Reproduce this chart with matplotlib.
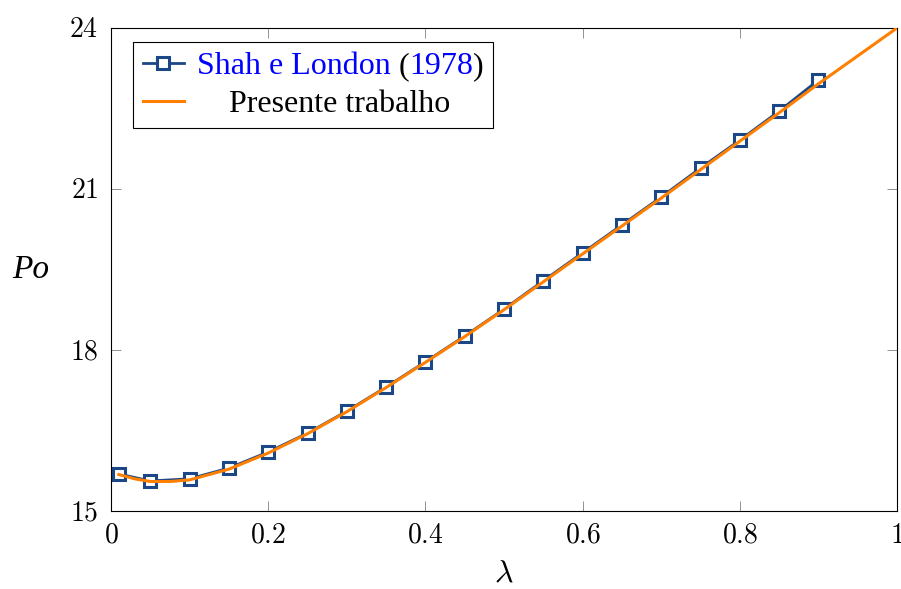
import numpy as np
import matplotlib
matplotlib.use('Agg')
import matplotlib.pyplot as plt
from matplotlib.ticker import FuncFormatter

plt.rcParams['font.family'] = 'Liberation Serif'
plt.rcParams['mathtext.fontset'] = 'cm'

# Shah e London (1978)
lam_ref = [0.01, 0.05, 0.10, 0.15, 0.20, 0.25, 0.30, 0.35, 0.40, 0.45,
           0.50, 0.55, 0.60, 0.65, 0.70, 0.75, 0.80, 0.85, 0.90]
po_ref = [15.69, 15.56, 15.60, 15.80, 16.10, 16.45, 16.86, 17.31, 17.78, 18.26,
          18.76, 19.29, 19.81, 20.33, 20.85, 21.39, 21.91, 22.45, 23.03]

# presente trabalho
lam_pt = [0.01, 0.03, 0.05, 0.075, 0.10, 0.15, 0.20, 0.25, 0.30, 0.35, 0.40, 0.45,
          0.50, 0.55, 0.60, 0.65, 0.70, 0.75, 0.80, 0.85, 0.90, 0.95, 1.00]
po_pt = [15.68, 15.60, 15.55, 15.55, 15.58, 15.78, 16.08, 16.44, 16.85, 17.30, 17.77, 18.25,
         18.75, 19.27, 19.79, 20.31, 20.83, 21.36, 21.89, 22.42, 22.96, 23.48, 24.00]

xticks = [0, 0.2, 0.4, 0.6, 0.8, 1]
yticks = [15, 18, 21, 24]

blue = '#1c4787'
orange = '#ff8000'
fs_leg = 23

fig = plt.figure(figsize=(9.01, 5.89), dpi=100)
ax = fig.add_axes([0.1232, 0.1324, 0.8724, 0.8201])

ax.plot(lam_ref, po_ref, color=blue, lw=2.0, marker='s', ms=8.5, mfc='white',
        mec=blue, mew=2.2, label='Shah e London (1978)', zorder=2)
ax.plot(lam_pt, po_pt, color=orange, lw=2.2, label='    Presente trabalho', zorder=3)

ax.set_xlim(0, 1)
ax.set_ylim(15, 24)
ax.set_xticks(xticks)
ax.set_yticks(yticks)
fmt = FuncFormatter(lambda v, p: '$%g$' % v)
ax.xaxis.set_major_formatter(fmt)
ax.yaxis.set_major_formatter(fmt)
ax.tick_params(direction='in', length=7, width=0.6, color='#808080',
               top=True, right=True, labelsize=20, pad=9)
for sp in ax.spines.values():
    sp.set_linewidth(0.8)

ax.set_xlabel(r'$\lambda$', fontsize=23, labelpad=8)
ax.set_ylabel('Po', fontsize=24, style='italic', rotation=0, labelpad=28, va='center')

leg = ax.legend(loc='upper left', bbox_to_anchor=(0.028, 0.97), fontsize=fs_leg,
                frameon=True, fancybox=False, edgecolor='black', framealpha=1,
                handlelength=1.3, handletextpad=0.4, borderpad=0.3,
                labelspacing=0.25, borderaxespad=0)
leg.get_frame().set_linewidth(0.8)

# color parts of the first legend label like the reference (blue name/year, black parens)
fig.canvas.draw()
t0 = leg.get_texts()[0]
t0.set_alpha(0)
bb = t0.get_window_extent()
pieces = [('Shah e London ', 'blue'), ('(', 'black'), ('1978', 'blue'), (')', 'black')]
prev = None
for s, c in pieces:
    if prev is None:
        prev = fig.text(bb.x0 / fig.bbox.width, bb.y0 / fig.bbox.height, s, color=c,
                        fontsize=fs_leg, ha='left', va='bottom', zorder=10)
    else:
        prev = ax.annotate(s, xy=(1, 0), xycoords=prev, ha='left', va='bottom',
                           color=c, fontsize=fs_leg, zorder=10)

fig.savefig('out.png', dpi=100)
